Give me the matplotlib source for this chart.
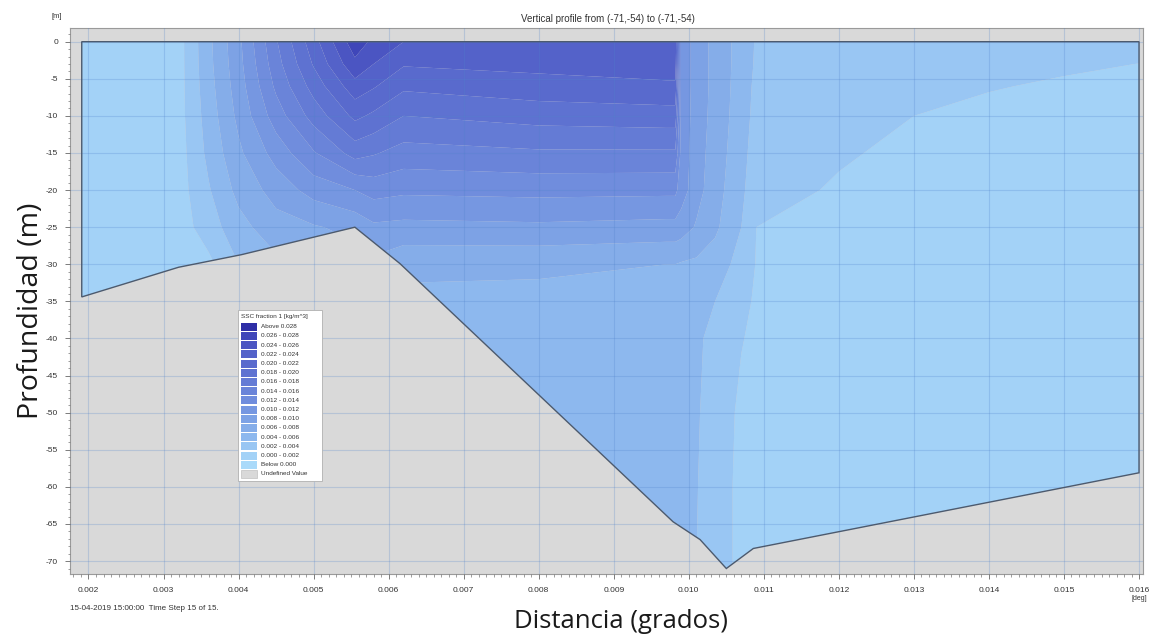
import numpy as np
import matplotlib
matplotlib.use("Agg")
import matplotlib.pyplot as plt
from matplotlib.patches import Polygon, Rectangle
from matplotlib.ticker import MultipleLocator, FormatStrFormatter

plt.rcParams['axes.unicode_minus'] = False

# ---------------------------------------------------------------- data
# distance stations (deg) and depth levels (m) of the concentration field
dist = [0.00185, 0.0032, 0.0036, 0.0040, 0.0045, 0.0050, 0.00555, 0.0058,
        0.0062, 0.0080, 0.0097, 0.00982, 0.0099, 0.0101, 0.01035, 0.0107,
        0.0109, 0.0120, 0.0130, 0.0140, 0.0150, 0.0161]
depth_nodes = [0, -3, -6, -10, -15, -20, -25, -30, -35, -40, -50, -60, -72]

# SSC fraction 1 (kg/m^3), one vertical profile per distance station
ssc_profiles = [
    [0.0010, 0.0010, 0.0010, 0.0010, 0.0010, 0.0010, 0.0010, 0.0010, 0.0010, 0.0010, 0.0010, 0.0010, 0.0010],
    [0.0012, 0.0012, 0.0012, 0.0012, 0.0011, 0.0011, 0.0010, 0.0010, 0.0010, 0.0010, 0.0010, 0.0010, 0.0010],
    [0.0055, 0.0054, 0.0052, 0.0049, 0.0045, 0.0038, 0.0030, 0.0015, 0.0012, 0.0010, 0.0010, 0.0010, 0.0010],
    [0.0095, 0.0093, 0.0090, 0.0085, 0.0076, 0.0066, 0.0053, 0.0040, 0.0030, 0.0025, 0.0020, 0.0020, 0.0020],
    [0.0158, 0.0152, 0.0144, 0.0130, 0.0108, 0.0088, 0.0072, 0.0055, 0.0045, 0.0040, 0.0035, 0.0030, 0.0030],
    [0.0212, 0.0202, 0.0188, 0.0168, 0.0138, 0.0108, 0.0078, 0.0065, 0.0055, 0.0050, 0.0045, 0.0040, 0.0040],
    [0.0272, 0.0255, 0.0232, 0.0205, 0.0168, 0.0120, 0.0086, 0.0070, 0.0060, 0.0055, 0.0050, 0.0045, 0.0045],
    [0.0255, 0.0240, 0.0222, 0.0196, 0.0162, 0.0128, 0.0096, 0.0075, 0.0060, 0.0052, 0.0048, 0.0045, 0.0045],
    [0.0240, 0.0222, 0.0204, 0.0180, 0.0152, 0.0124, 0.0094, 0.0065, 0.0055, 0.0050, 0.0047, 0.0045, 0.0045],
    [0.0237, 0.0226, 0.0212, 0.0188, 0.0157, 0.0126, 0.0096, 0.0064, 0.0054, 0.0050, 0.0047, 0.0044, 0.0042],
    [0.0238, 0.0231, 0.0216, 0.0191, 0.0157, 0.0125, 0.0093, 0.0060, 0.0053, 0.0050, 0.0047, 0.0044, 0.0042],
    [0.0238, 0.0231, 0.0216, 0.0191, 0.0157, 0.0125, 0.0093, 0.0060, 0.0053, 0.0050, 0.0047, 0.0044, 0.0042],
    [0.0112, 0.0112, 0.0112, 0.0112, 0.0112, 0.0110, 0.0090, 0.0058, 0.0051, 0.0048, 0.0046, 0.0044, 0.0042],
    [0.0093, 0.0093, 0.0093, 0.0092, 0.0090, 0.0088, 0.0078, 0.0056, 0.0047, 0.0043, 0.0042, 0.0041, 0.0040],
    [0.0073, 0.0073, 0.0073, 0.0072, 0.0070, 0.0068, 0.0064, 0.0050, 0.0040, 0.0035, 0.0032, 0.0030, 0.0030],
    [0.0052, 0.0052, 0.0051, 0.0050, 0.0048, 0.0045, 0.0040, 0.0033, 0.0024, 0.0021, 0.0016, 0.0015, 0.0015],
    [0.0038, 0.0037, 0.0035, 0.0033, 0.0029, 0.0025, 0.0020, 0.0019, 0.0018, 0.0016, 0.0013, 0.0011, 0.0010],
    [0.0032, 0.0030, 0.0028, 0.0025, 0.00215, 0.00185, 0.0017, 0.0015, 0.0013, 0.0012, 0.0011, 0.0010, 0.0010],
    [0.0028, 0.0025, 0.0023, 0.0020, 0.0017, 0.0015, 0.0013, 0.0012, 0.0011, 0.0010, 0.0010, 0.0010, 0.0010],
    [0.0026, 0.0023, 0.00205, 0.0018, 0.0016, 0.0014, 0.0012, 0.0011, 0.0010, 0.0010, 0.0010, 0.0010, 0.0010],
    [0.0024, 0.00212, 0.0019, 0.0017, 0.0015, 0.0013, 0.0012, 0.0011, 0.0010, 0.0010, 0.0010, 0.0010, 0.0010],
    [0.0023, 0.00198, 0.0018, 0.0016, 0.0014, 0.0013, 0.0012, 0.0011, 0.0010, 0.0010, 0.0010, 0.0010, 0.0010],
]

# bed profile along the section
bed_dist = [0.00191, 0.00320, 0.00404, 0.00555, 0.00615, 0.00979, 0.01015, 0.01050, 0.01086, 0.01600]
bed_depth = [-34.4, -30.4, -28.7, -25.0, -29.9, -64.7, -67.1, -71.0, -68.3, -58.1]

# class limits of the colour scale
class_limits = [0.000, 0.002, 0.004, 0.006, 0.008, 0.010, 0.012, 0.014,
                0.016, 0.018, 0.020, 0.022, 0.024, 0.026, 0.028]

# ---------------------------------------------------------------- style
band_colors = ['#aadafa', '#a3d2f7', '#99c6f3', '#8db8ee', '#85ade9', '#7da2e5',
               '#7697e1', '#708ddd', '#6a84d9', '#647bd5', '#5e72d1', '#596acd',
               '#5462c9', '#4b55c2', '#3f46b9', '#2e2ea6']
undefined_color = '#d9d9d9'

W, H = 1149, 639
fig = plt.figure(figsize=(W / 100, H / 100), dpi=100)
fig.patch.set_facecolor('white')

ax_l, ax_r, ax_t, ax_b = 70, 1143, 28, 574
ax = fig.add_axes([ax_l / W, 1 - ax_b / H, (ax_r - ax_l) / W, (ax_b - ax_t) / H])
ax.set_facecolor(undefined_color)
ax.set_xlim(0.0017535, 0.016053)
ax.set_ylim(-71.74, 1.846)

levels = [-1.0] + class_limits + [1.0]
ssc = np.array(ssc_profiles).T
cs = ax.contourf(dist, depth_nodes, ssc, levels=levels, colors=band_colors,
                 zorder=1, antialiased=True)

outline = ([(bed_dist[0], 0.0)] + list(zip(bed_dist, bed_depth))
           + [(bed_dist[-1], 0.0)])
water = Polygon(outline, closed=True, facecolor='none', edgecolor='#4c5a6e',
                lw=1.0, zorder=3)
ax.add_patch(water)
cs.set_clip_path(water)

# grid and ticks
ax.set_axisbelow(False)
ax.xaxis.set_major_locator(MultipleLocator(0.001))
ax.xaxis.set_minor_locator(MultipleLocator(0.0001))
ax.yaxis.set_major_locator(MultipleLocator(5))
ax.yaxis.set_minor_locator(MultipleLocator(1))
ax.xaxis.set_major_formatter(FormatStrFormatter('%.3f'))
ax.yaxis.set_major_formatter(FormatStrFormatter('%d'))
ax.grid(True, which='major', color='#4f82cc', alpha=0.25, lw=0.8)
ax.tick_params(which='major', direction='out', length=3.5, width=0.6,
               color='#666666', labelsize=6, labelcolor='#333333', pad=6)
ax.tick_params(which='minor', direction='out', length=1.8, width=0.5,
               color='#777777')
ax.tick_params(axis='y', pad=5)
for lab in ax.get_xticklabels() + ax.get_yticklabels():
    lab.set_family('Liberation Sans')
for s in ax.spines.values():
    s.set_color('#9a9a9a')
    s.set_linewidth(0.8)

# overlay in pixel coordinates for annotations and the legend box
ov = fig.add_axes([0, 0, 1, 1], zorder=10)
ov.set_xlim(0, W)
ov.set_ylim(H, 0)
ov.axis('off')
ov.patch.set_alpha(0)

small = dict(family='Liberation Sans', color='#333333')
ov.text(57, 17, '[m]', fontsize=5.5, ha='center', va='center', **small)
ov.text(608, 19, 'Vertical profile from (-71,-54) to (-71,-54)', fontsize=7,
        ha='center', va='center', **small)
ov.text(1139, 598, '[deg]', fontsize=5, ha='center', va='center', **small)
ov.text(70, 608, '15-04-2019 15:00:00  Time Step 15 of 15.', fontsize=5.8,
        ha='left', va='center', **small)

ov.text(621, 621, 'Distancia (grados)', fontsize=18.5, family='Open Sans',
        ha='center', va='center', color='#1a1a1a')
ov.text(31, 311, 'Profundidad (m)', fontsize=20.5, family='Open Sans',
        rotation=90, ha='center', va='center', color='#1a1a1a')

# legend
lx0, ly0, lx1, ly1 = 238, 310, 322, 481
ov.add_patch(Rectangle((lx0, ly0), lx1 - lx0, ly1 - ly0, facecolor='white',
                       edgecolor='#b0b0b0', lw=0.6))
ov.text(241, 316.5, 'SSC fraction 1 [kg/m^3]', fontsize=4.6, ha='left',
        va='center', **small)
labels = ['Above %.3f' % class_limits[-1]]
for lo, hi in zip(class_limits[-2::-1], class_limits[:0:-1]):
    labels.append('%.3f - %.3f' % (lo, hi))
labels.append('Below %.3f' % class_limits[0])
labels.append('Undefined Value')
swatches = band_colors[::-1] + [undefined_color]
row_h = 9.2
for i, (lab, col) in enumerate(zip(labels, swatches)):
    yc = 326.7 + i * row_h
    ov.add_patch(Rectangle((241, yc - 4), 16, 8, facecolor=col,
                           edgecolor='#c0c0c0' if i == len(labels) - 1 else 'none',
                           lw=0.5))
    ov.text(261, yc, lab, fontsize=4.6, ha='left', va='center', **small)

fig.savefig('out.png', dpi=100)
